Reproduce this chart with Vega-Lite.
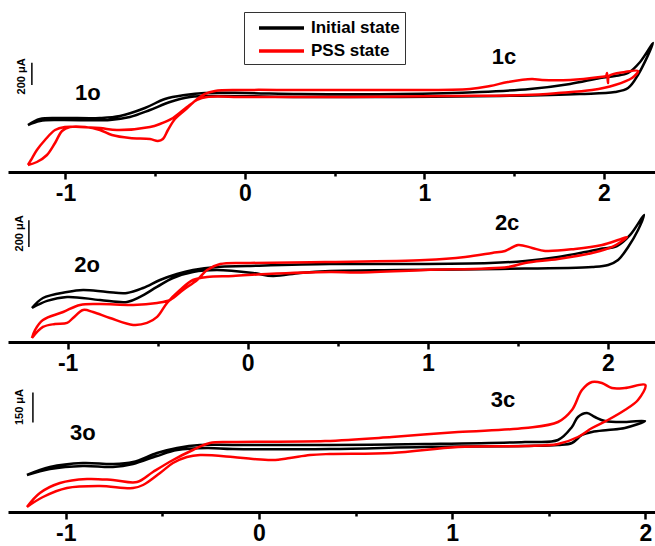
{
"$schema": "https://vega.github.io/schema/vega-lite/v6.json",
"padding": {"left": 8, "top": 0, "right": 0, "bottom": 0},
"background": "white",
"config": {
  "font": "Liberation Sans",
  "view": {"stroke": null},
  "axis": {"grid": false, "title": null, "domainColor": "black", "domainWidth": 3, "tickColor": "black", "tickWidth": 2.5, "labelColor": "black", "labelFont": "Liberation Sans", "labelFontWeight": "bold", "labelFontSize": 23, "labelPadding": 3},
  "text": {"font": "Liberation Sans", "fontWeight": "bold", "color": "black"}
},
"spacing": 28,
"bounds": "flush",
"vconcat": [
{
  "width": 647, "height": 172,
  "layer": [
    {
      "data": {"values": [
        {"state":"Initial state","k":1,"E":-1.209,"I":423},{"state":"Initial state","k":2,"E":-1.142,"I":459},{"state":"Initial state","k":3,"E":-1.031,"I":468},{"state":"Initial state","k":4,"E":-0.752,"I":468},{"state":"Initial state","k":5,"E":-0.641,"I":495},{"state":"Initial state","k":6,"E":-0.529,"I":558},{"state":"Initial state","k":7,"E":-0.418,"I":630},{"state":"Initial state","k":8,"E":-0.306,"I":675},{"state":"Initial state","k":9,"E":-0.139,"I":684},{"state":"Initial state","k":10,"E":0.306,"I":675},{"state":"Initial state","k":11,"E":0.864,"I":675},{"state":"Initial state","k":12,"E":1.421,"I":684},{"state":"Initial state","k":13,"E":1.866,"I":702},{"state":"Initial state","k":14,"E":2.061,"I":720},{"state":"Initial state","k":15,"E":2.134,"I":756},{"state":"Initial state","k":16,"E":2.189,"I":873},{"state":"Initial state","k":17,"E":2.273,"I":1161},{"state":"Initial state","k":18,"E":2.201,"I":990},{"state":"Initial state","k":19,"E":2.134,"I":891},{"state":"Initial state","k":20,"E":2.061,"I":864},{"state":"Initial state","k":21,"E":1.978,"I":846},{"state":"Initial state","k":22,"E":1.811,"I":792},{"state":"Initial state","k":23,"E":1.588,"I":747},{"state":"Initial state","k":24,"E":1.309,"I":720},{"state":"Initial state","k":25,"E":0.864,"I":702},{"state":"Initial state","k":26,"E":0.306,"I":702},{"state":"Initial state","k":27,"E":0.0,"I":711},{"state":"Initial state","k":28,"E":-0.223,"I":711},{"state":"Initial state","k":29,"E":-0.334,"I":693},{"state":"Initial state","k":30,"E":-0.446,"I":657},{"state":"Initial state","k":31,"E":-0.557,"I":576},{"state":"Initial state","k":32,"E":-0.696,"I":504},{"state":"Initial state","k":33,"E":-0.808,"I":486},{"state":"Initial state","k":34,"E":-1.031,"I":486},{"state":"Initial state","k":35,"E":-1.142,"I":477},{"state":"Initial state","k":36,"E":-1.209,"I":423},
        {"state":"PSS state","k":1,"E":-1.209,"I":63},{"state":"PSS state","k":2,"E":-1.159,"I":90},{"state":"PSS state","k":3,"E":-1.103,"I":153},{"state":"PSS state","k":4,"E":-1.058,"I":261},{"state":"PSS state","k":5,"E":-1.019,"I":369},{"state":"PSS state","k":6,"E":-0.975,"I":405},{"state":"PSS state","k":7,"E":-0.891,"I":405},{"state":"PSS state","k":8,"E":-0.808,"I":378},{"state":"PSS state","k":9,"E":-0.741,"I":333},{"state":"PSS state","k":10,"E":-0.641,"I":306},{"state":"PSS state","k":11,"E":-0.529,"I":297},{"state":"PSS state","k":12,"E":-0.485,"I":279},{"state":"PSS state","k":13,"E":-0.457,"I":297},{"state":"PSS state","k":14,"E":-0.429,"I":378},{"state":"PSS state","k":15,"E":-0.39,"I":477},{"state":"PSS state","k":16,"E":-0.334,"I":558},{"state":"PSS state","k":17,"E":-0.279,"I":639},{"state":"PSS state","k":18,"E":-0.223,"I":702},{"state":"PSS state","k":19,"E":-0.167,"I":729},{"state":"PSS state","k":20,"E":-0.028,"I":738},{"state":"PSS state","k":21,"E":0.306,"I":738},{"state":"PSS state","k":22,"E":0.864,"I":738},{"state":"PSS state","k":23,"E":1.253,"I":747},{"state":"PSS state","k":24,"E":1.365,"I":774},{"state":"PSS state","k":25,"E":1.465,"I":810},{"state":"PSS state","k":26,"E":1.599,"I":837},{"state":"PSS state","k":27,"E":1.655,"I":828},{"state":"PSS state","k":28,"E":1.811,"I":828},{"state":"PSS state","k":29,"E":1.978,"I":855},{"state":"PSS state","k":30,"E":2.011,"I":864},{"state":"PSS state","k":31,"E":2.017,"I":891},{"state":"PSS state","k":32,"E":2.022,"I":801},{"state":"PSS state","k":33,"E":2.028,"I":864},{"state":"PSS state","k":34,"E":2.117,"I":900},{"state":"PSS state","k":35,"E":2.189,"I":909},{"state":"PSS state","k":36,"E":2.156,"I":846},{"state":"PSS state","k":37,"E":2.061,"I":783},{"state":"PSS state","k":38,"E":1.933,"I":738},{"state":"PSS state","k":39,"E":1.744,"I":711},{"state":"PSS state","k":40,"E":1.56,"I":693},{"state":"PSS state","k":41,"E":1.142,"I":684},{"state":"PSS state","k":42,"E":0.585,"I":675},{"state":"PSS state","k":43,"E":0.0,"I":675},{"state":"PSS state","k":44,"E":-0.212,"I":675},{"state":"PSS state","k":45,"E":-0.267,"I":648},{"state":"PSS state","k":46,"E":-0.323,"I":585},{"state":"PSS state","k":47,"E":-0.401,"I":486},{"state":"PSS state","k":48,"E":-0.474,"I":432},{"state":"PSS state","k":49,"E":-0.529,"I":405},{"state":"PSS state","k":50,"E":-0.713,"I":378},{"state":"PSS state","k":51,"E":-0.808,"I":396},{"state":"PSS state","k":52,"E":-0.919,"I":405},{"state":"PSS state","k":53,"E":-1.003,"I":405},{"state":"PSS state","k":54,"E":-1.058,"I":378},{"state":"PSS state","k":55,"E":-1.114,"I":288},{"state":"PSS state","k":56,"E":-1.159,"I":198},{"state":"PSS state","k":57,"E":-1.192,"I":108},{"state":"PSS state","k":58,"E":-1.209,"I":63}
      ]},
      "mark": {"type": "line", "strokeWidth": 2.5, "interpolate": "catmull-rom"},
      "encoding": {
        "x": {"field": "E", "type": "quantitative", "scale": {"domain": [-1.32, 2.284], "nice": false, "zero": false},
              "axis": {"values": [-1, -0.5, 0, 0.5, 1, 1.5, 2], "labelExpr": "datum.value % 1 === 0 ? '' + datum.value : ''", "tickSize": {"condition": {"test": "datum.value % 1 === 0", "value": 7}, "value": 4}}},
        "y": {"field": "I", "type": "quantitative", "scale": {"domain": [0, 1548], "nice": false}, "axis": null},
        "color": {"field": "state", "type": "nominal", "scale": {"domain": ["Initial state", "PSS state"], "range": ["#000000", "#ff0000"]},
                  "legend": {"orient": "none", "legendX": 236, "legendY": 12, "title": null, "symbolType": "M-0.111,0H4.889", "symbolSize": 324, "symbolStrokeWidth": 3.5, "labelFontSize": 17, "labelFont": "Liberation Sans", "labelFontWeight": "bold", "labelColor": "black", "strokeColor": "#333333", "padding": 5, "rowPadding": 4, "labelOffset": 40}},
        "order": {"field": "k", "type": "quantitative"}
      }
    },
    {
      "data": {"values": [{"E": -1.187, "I1": 783, "I2": 983}]},
      "mark": {"type": "rule", "strokeWidth": 1.5, "color": "black"},
      "encoding": {"x": {"field": "E", "type": "quantitative"}, "y": {"field": "I1", "type": "quantitative"}, "y2": {"field": "I2"}}
    },
    {
      "data": {"values": [{"E": -1.242, "I": 860, "t": "200 μA"}]},
      "mark": {"type": "text", "angle": 270, "fontSize": 11, "align": "center", "baseline": "middle"},
      "encoding": {"x": {"field": "E", "type": "quantitative"}, "y": {"field": "I", "type": "quantitative"}, "text": {"field": "t"}}
    },
    {
      "data": {"values": [{"E": -0.875, "I": 711, "t": "1o"}, {"E": 1.443, "I": 1035, "t": "1c"}]},
      "mark": {"type": "text", "fontSize": 22, "align": "center", "baseline": "middle"},
      "encoding": {"x": {"field": "E", "type": "quantitative"}, "y": {"field": "I", "type": "quantitative"}, "text": {"field": "t"}}
    }
  ]
},
{
  "width": 647, "height": 142,
  "layer": [
    {
      "data": {"values": [
        {"state":"Initial state","k":1,"E":-1.198,"I":255},{"state":"Initial state","k":2,"E":-1.114,"I":308},{"state":"Initial state","k":3,"E":-1.003,"I":338},{"state":"Initial state","k":4,"E":-0.82,"I":315},{"state":"Initial state","k":5,"E":-0.67,"I":300},{"state":"Initial state","k":6,"E":-0.598,"I":338},{"state":"Initial state","k":7,"E":-0.504,"I":413},{"state":"Initial state","k":8,"E":-0.415,"I":480},{"state":"Initial state","k":9,"E":-0.304,"I":525},{"state":"Initial state","k":10,"E":-0.171,"I":540},{"state":"Initial state","k":11,"E":0.029,"I":518},{"state":"Initial state","k":12,"E":0.14,"I":495},{"state":"Initial state","k":13,"E":0.29,"I":518},{"state":"Initial state","k":14,"E":0.457,"I":533},{"state":"Initial state","k":15,"E":0.846,"I":540},{"state":"Initial state","k":16,"E":1.401,"I":548},{"state":"Initial state","k":17,"E":1.912,"I":563},{"state":"Initial state","k":18,"E":2.001,"I":578},{"state":"Initial state","k":19,"E":2.056,"I":615},{"state":"Initial state","k":20,"E":2.112,"I":713},{"state":"Initial state","k":21,"E":2.167,"I":840},{"state":"Initial state","k":22,"E":2.2,"I":953},{"state":"Initial state","k":23,"E":2.123,"I":803},{"state":"Initial state","k":24,"E":2.05,"I":720},{"state":"Initial state","k":25,"E":1.956,"I":698},{"state":"Initial state","k":26,"E":1.873,"I":675},{"state":"Initial state","k":27,"E":1.723,"I":638},{"state":"Initial state","k":28,"E":1.54,"I":608},{"state":"Initial state","k":29,"E":1.345,"I":593},{"state":"Initial state","k":30,"E":0.846,"I":585},{"state":"Initial state","k":31,"E":0.457,"I":585},{"state":"Initial state","k":32,"E":-0.004,"I":570},{"state":"Initial state","k":33,"E":-0.171,"I":563},{"state":"Initial state","k":34,"E":-0.304,"I":540},{"state":"Initial state","k":35,"E":-0.393,"I":510},{"state":"Initial state","k":36,"E":-0.487,"I":465},{"state":"Initial state","k":37,"E":-0.581,"I":405},{"state":"Initial state","k":38,"E":-0.67,"I":368},{"state":"Initial state","k":39,"E":-0.781,"I":375},{"state":"Initial state","k":40,"E":-0.914,"I":390},{"state":"Initial state","k":41,"E":-1.003,"I":375},{"state":"Initial state","k":42,"E":-1.137,"I":330},{"state":"Initial state","k":43,"E":-1.198,"I":255},
        {"state":"PSS state","k":1,"E":-1.198,"I":30},{"state":"PSS state","k":2,"E":-1.137,"I":113},{"state":"PSS state","k":3,"E":-1.07,"I":135},{"state":"PSS state","k":4,"E":-1.003,"I":143},{"state":"PSS state","k":5,"E":-0.97,"I":180},{"state":"PSS state","k":6,"E":-0.914,"I":240},{"state":"PSS state","k":7,"E":-0.859,"I":225},{"state":"PSS state","k":8,"E":-0.765,"I":180},{"state":"PSS state","k":9,"E":-0.636,"I":128},{"state":"PSS state","k":10,"E":-0.559,"I":143},{"state":"PSS state","k":11,"E":-0.503,"I":188},{"state":"PSS state","k":12,"E":-0.448,"I":293},{"state":"PSS state","k":13,"E":-0.376,"I":390},{"state":"PSS state","k":14,"E":-0.304,"I":465},{"state":"PSS state","k":15,"E":-0.226,"I":488},{"state":"PSS state","k":16,"E":-0.082,"I":495},{"state":"PSS state","k":17,"E":0.107,"I":510},{"state":"PSS state","k":18,"E":0.457,"I":525},{"state":"PSS state","k":19,"E":0.612,"I":522},{"state":"PSS state","k":20,"E":0.985,"I":540},{"state":"PSS state","k":21,"E":1.446,"I":563},{"state":"PSS state","k":22,"E":1.54,"I":593},{"state":"PSS state","k":23,"E":1.723,"I":623},{"state":"PSS state","k":24,"E":1.912,"I":668},{"state":"PSS state","k":25,"E":2.023,"I":713},{"state":"PSS state","k":26,"E":2.106,"I":788},{"state":"PSS state","k":27,"E":2.056,"I":765},{"state":"PSS state","k":28,"E":1.967,"I":728},{"state":"PSS state","k":29,"E":1.817,"I":698},{"state":"PSS state","k":30,"E":1.651,"I":683},{"state":"PSS state","k":31,"E":1.579,"I":705},{"state":"PSS state","k":32,"E":1.501,"I":728},{"state":"PSS state","k":33,"E":1.429,"I":683},{"state":"PSS state","k":34,"E":1.357,"I":668},{"state":"PSS state","k":35,"E":1.207,"I":638},{"state":"PSS state","k":36,"E":0.985,"I":615},{"state":"PSS state","k":37,"E":0.43,"I":600},{"state":"PSS state","k":38,"E":0.013,"I":593},{"state":"PSS state","k":39,"E":-0.153,"I":585},{"state":"PSS state","k":40,"E":-0.226,"I":540},{"state":"PSS state","k":41,"E":-0.281,"I":465},{"state":"PSS state","k":42,"E":-0.359,"I":390},{"state":"PSS state","k":43,"E":-0.431,"I":315},{"state":"PSS state","k":44,"E":-0.503,"I":293},{"state":"PSS state","k":45,"E":-0.636,"I":278},{"state":"PSS state","k":46,"E":-0.82,"I":285},{"state":"PSS state","k":47,"E":-0.931,"I":278},{"state":"PSS state","k":48,"E":-1.025,"I":225},{"state":"PSS state","k":49,"E":-1.137,"I":165},{"state":"PSS state","k":50,"E":-1.181,"I":90},{"state":"PSS state","k":51,"E":-1.198,"I":30}
      ]},
      "mark": {"type": "line", "strokeWidth": 2.5, "interpolate": "catmull-rom"},
      "encoding": {
        "x": {"field": "E", "type": "quantitative", "scale": {"domain": [-1.331, 2.261], "nice": false, "zero": false},
              "axis": {"values": [-1, -0.5, 0, 0.5, 1, 1.5, 2], "labelExpr": "datum.value % 1 === 0 ? '' + datum.value : ''", "tickSize": {"condition": {"test": "datum.value % 1 === 0", "value": 7}, "value": 4}}},
        "y": {"field": "I", "type": "quantitative", "scale": {"domain": [0, 1065], "nice": false}, "axis": null},
        "color": {"field": "state", "type": "nominal", "scale": {"domain": ["Initial state", "PSS state"], "range": ["#000000", "#ff0000"]}, "legend": null},
        "order": {"field": "k", "type": "quantitative"}
      }
    },
    {
      "data": {"values": [{"E": -1.215, "I1": 713, "I2": 913}]},
      "mark": {"type": "rule", "strokeWidth": 1.5, "color": "black"},
      "encoding": {"x": {"field": "E", "type": "quantitative"}, "y": {"field": "I1", "type": "quantitative"}, "y2": {"field": "I2"}}
    },
    {
      "data": {"values": [{"E": -1.264, "I": 815, "t": "200 μA"}]},
      "mark": {"type": "text", "angle": 270, "fontSize": 11, "align": "center", "baseline": "middle"},
      "encoding": {"x": {"field": "E", "type": "quantitative"}, "y": {"field": "I", "type": "quantitative"}, "text": {"field": "t"}}
    },
    {
      "data": {"values": [{"E": -0.892, "I": 578, "t": "2o"}, {"E": 1.44, "I": 893, "t": "2c"}]},
      "mark": {"type": "text", "fontSize": 22, "align": "center", "baseline": "middle"},
      "encoding": {"x": {"field": "E", "type": "quantitative"}, "y": {"field": "I", "type": "quantitative"}, "text": {"field": "t"}}
    }
  ]
},
{
  "width": 647, "height": 142,
  "layer": [
    {
      "data": {"values": [
        {"state":"Initial state","k":1,"E":-1.201,"I":185},{"state":"Initial state","k":2,"E":-1.082,"I":215},{"state":"Initial state","k":3,"E":-0.911,"I":230},{"state":"Initial state","k":4,"E":-0.756,"I":225},{"state":"Initial state","k":5,"E":-0.652,"I":240},{"state":"Initial state","k":6,"E":-0.528,"I":280},{"state":"Initial state","k":7,"E":-0.424,"I":310},{"state":"Initial state","k":8,"E":-0.269,"I":320},{"state":"Initial state","k":9,"E":-0.135,"I":315},{"state":"Initial state","k":10,"E":0.367,"I":315},{"state":"Initial state","k":11,"E":0.859,"I":325},{"state":"Initial state","k":12,"E":1.377,"I":330},{"state":"Initial state","k":13,"E":1.548,"I":335},{"state":"Initial state","k":14,"E":1.62,"I":345},{"state":"Initial state","k":15,"E":1.672,"I":385},{"state":"Initial state","k":16,"E":1.724,"I":400},{"state":"Initial state","k":17,"E":1.806,"I":410},{"state":"Initial state","k":18,"E":1.894,"I":420},{"state":"Initial state","k":19,"E":1.998,"I":455},{"state":"Initial state","k":20,"E":1.894,"I":450},{"state":"Initial state","k":21,"E":1.791,"I":455},{"state":"Initial state","k":22,"E":1.739,"I":475},{"state":"Initial state","k":23,"E":1.698,"I":495},{"state":"Initial state","k":24,"E":1.651,"I":475},{"state":"Initial state","k":25,"E":1.62,"I":425},{"state":"Initial state","k":26,"E":1.548,"I":360},{"state":"Initial state","k":27,"E":1.377,"I":350},{"state":"Initial state","k":28,"E":0.859,"I":340},{"state":"Initial state","k":29,"E":0.367,"I":335},{"state":"Initial state","k":30,"E":-0.135,"I":335},{"state":"Initial state","k":31,"E":-0.305,"I":335},{"state":"Initial state","k":32,"E":-0.424,"I":320},{"state":"Initial state","k":33,"E":-0.528,"I":295},{"state":"Initial state","k":34,"E":-0.652,"I":250},{"state":"Initial state","k":35,"E":-0.756,"I":240},{"state":"Initial state","k":36,"E":-0.911,"I":245},{"state":"Initial state","k":37,"E":-1.082,"I":225},{"state":"Initial state","k":38,"E":-1.201,"I":185},
        {"state":"PSS state","k":1,"E":-1.201,"I":25},{"state":"PSS state","k":2,"E":-1.118,"I":75},{"state":"PSS state","k":3,"E":-0.994,"I":120},{"state":"PSS state","k":4,"E":-0.823,"I":130},{"state":"PSS state","k":5,"E":-0.652,"I":120},{"state":"PSS state","k":6,"E":-0.6,"I":135},{"state":"PSS state","k":7,"E":-0.512,"I":195},{"state":"PSS state","k":8,"E":-0.445,"I":245},{"state":"PSS state","k":9,"E":-0.373,"I":275},{"state":"PSS state","k":10,"E":-0.305,"I":285},{"state":"PSS state","k":11,"E":-0.135,"I":275},{"state":"PSS state","k":12,"E":-0.031,"I":265},{"state":"PSS state","k":13,"E":0.072,"I":260},{"state":"PSS state","k":14,"E":0.16,"I":270},{"state":"PSS state","k":15,"E":0.264,"I":285},{"state":"PSS state","k":16,"E":0.367,"I":290},{"state":"PSS state","k":17,"E":0.688,"I":295},{"state":"PSS state","k":18,"E":1.03,"I":325},{"state":"PSS state","k":19,"E":1.377,"I":330},{"state":"PSS state","k":20,"E":1.548,"I":340},{"state":"PSS state","k":21,"E":1.651,"I":375},{"state":"PSS state","k":22,"E":1.724,"I":420},{"state":"PSS state","k":23,"E":1.806,"I":460},{"state":"PSS state","k":24,"E":1.894,"I":510},{"state":"PSS state","k":25,"E":1.962,"I":560},{"state":"PSS state","k":26,"E":2.0,"I":635},{"state":"PSS state","k":27,"E":1.894,"I":620},{"state":"PSS state","k":28,"E":1.827,"I":620},{"state":"PSS state","k":29,"E":1.775,"I":645},{"state":"PSS state","k":30,"E":1.724,"I":650},{"state":"PSS state","k":31,"E":1.672,"I":610},{"state":"PSS state","k":32,"E":1.62,"I":510},{"state":"PSS state","k":33,"E":1.548,"I":450},{"state":"PSS state","k":34,"E":1.377,"I":420},{"state":"PSS state","k":35,"E":1.03,"I":400},{"state":"PSS state","k":36,"E":0.688,"I":375},{"state":"PSS state","k":37,"E":0.342,"I":355},{"state":"PSS state","k":38,"E":-0.135,"I":350},{"state":"PSS state","k":39,"E":-0.254,"I":345},{"state":"PSS state","k":40,"E":-0.342,"I":310},{"state":"PSS state","k":41,"E":-0.445,"I":260},{"state":"PSS state","k":42,"E":-0.549,"I":200},{"state":"PSS state","k":43,"E":-0.631,"I":150},{"state":"PSS state","k":44,"E":-0.756,"I":160},{"state":"PSS state","k":45,"E":-0.89,"I":165},{"state":"PSS state","k":46,"E":-1.03,"I":145},{"state":"PSS state","k":47,"E":-1.134,"I":95},{"state":"PSS state","k":48,"E":-1.201,"I":25}
      ]},
      "mark": {"type": "line", "strokeWidth": 2.5, "interpolate": "catmull-rom"},
      "encoding": {
        "x": {"field": "E", "type": "quantitative", "scale": {"domain": [-1.299, 2.05], "nice": false, "zero": false},
              "axis": {"values": [-1, -0.5, 0, 0.5, 1, 1.5, 2], "labelExpr": "datum.value % 1 === 0 ? '' + datum.value : ''", "tickSize": {"condition": {"test": "datum.value % 1 === 0", "value": 7}, "value": 4}}},
        "y": {"field": "I", "type": "quantitative", "scale": {"domain": [0, 710], "nice": false}, "axis": null},
        "color": {"field": "state", "type": "nominal", "scale": {"domain": ["Initial state", "PSS state"], "range": ["#000000", "#ff0000"]}, "legend": null},
        "order": {"field": "k", "type": "quantitative"}
      }
    },
    {
      "data": {"values": [{"E": -1.17, "I1": 448, "I2": 598}]},
      "mark": {"type": "rule", "strokeWidth": 1.5, "color": "black"},
      "encoding": {"x": {"field": "E", "type": "quantitative"}, "y": {"field": "I1", "type": "quantitative"}, "y2": {"field": "I2"}}
    },
    {
      "data": {"values": [{"E": -1.237, "I": 525, "t": "150 μA"}]},
      "mark": {"type": "text", "angle": 270, "fontSize": 11, "align": "center", "baseline": "middle"},
      "encoding": {"x": {"field": "E", "type": "quantitative"}, "y": {"field": "I", "type": "quantitative"}, "text": {"field": "t"}}
    },
    {
      "data": {"values": [{"E": -0.911, "I": 395, "t": "3o"}, {"E": 1.263, "I": 560, "t": "3c"}]},
      "mark": {"type": "text", "fontSize": 22, "align": "center", "baseline": "middle"},
      "encoding": {"x": {"field": "E", "type": "quantitative"}, "y": {"field": "I", "type": "quantitative"}, "text": {"field": "t"}}
    }
  ]
}
]
}
